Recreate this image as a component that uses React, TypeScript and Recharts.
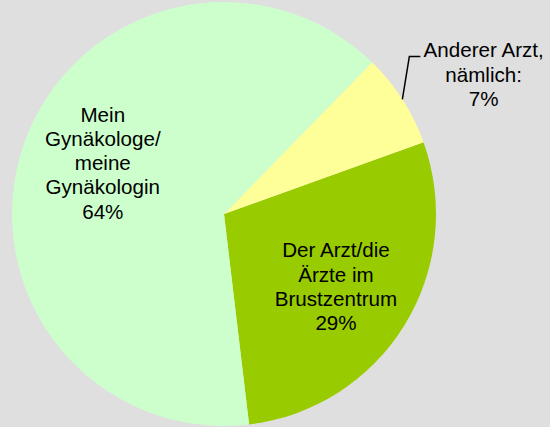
import React from 'react';
import { PieChart, Pie, Cell } from 'recharts';

const categories = ['Der Arzt/die Ärzte im Brustzentrum', 'Anderer Arzt, nämlich:', 'Mein Gynäkologe/meine Gynäkologin'];
const labelLines = [
  ['Der Arzt/die', 'Ärzte im', 'Brustzentrum'],
  ['Anderer Arzt,', 'nämlich:'],
  ['Mein', 'Gynäkologe/', 'meine', 'Gynäkologin'],
];
const shares = [28.6, 7.2, 64.2];
const colors = ['#99cc00', '#ffff99', '#ccffcc'];

const data = categories.map((name, i) => ({ name, value: shares[i] }));

// label placement per slice: radius factor and angle shift (deg)
const labelPos = [
  { r: 0.63, shift: -1.3 },
  { r: 1.39, shift: -4.5 },
  { r: 0.62, shift: -4 },
];

const RAD = Math.PI / 180;
const LINE_H = 24.3;

function renderLabel(props: any) {
  const { cx, cy, midAngle, outerRadius, index, value } = props;
  const pos = labelPos[index];
  const a = (midAngle + pos.shift) * RAD;
  const x = cx + outerRadius * pos.r * Math.cos(a);
  const y = cy - outerRadius * pos.r * Math.sin(a);
  const lines = [...labelLines[index], `${Math.round(value)}%`];
  const firstBase = y + 7 - ((lines.length - 1) * LINE_H) / 2;

  let leader = null;
  if (index === 1) {
    const ex = cx + outerRadius * Math.cos(midAngle * RAD);
    const ey = cy - outerRadius * Math.sin(midAngle * RAD);
    leader = (
      <polyline
        points={`${ex},${ey} ${ex + 7},${ey - 43} ${ex + 18},${ey - 43}`}
        fill="none"
        stroke="#000"
        strokeWidth={1.5}
      />
    );
  }

  return (
    <g>
      {leader}
      <text
        x={x}
        y={firstBase}
        textAnchor="middle"
        fill="#000"
        fontFamily="'Liberation Sans', Arial, sans-serif"
        fontSize={20.6}
      >
        {lines.map((t, i) => (
          <tspan key={i} x={x} y={firstBase + i * LINE_H}>
            {t}
          </tspan>
        ))}
      </text>
    </g>
  );
}

export default function App() {
  return (
    <div style={{ position: 'absolute', left: 0, top: 0, width: 550, height: 427, background: '#dfdfdf' }}>
      <PieChart width={550} height={427} margin={{ top: 0, right: 0, bottom: 0, left: 0 }}>
        <Pie
          data={data}
          dataKey="value"
          nameKey="name"
          cx={224}
          cy={214}
          outerRadius={212}
          startAngle={-83.2}
          endAngle={276.8}
          stroke="none"
          label={renderLabel}
          labelLine={false}
          isAnimationActive={false}
        >
          {data.map((d, i) => (
            <Cell key={d.name} fill={colors[i]} />
          ))}
        </Pie>
      </PieChart>
    </div>
  );
}
